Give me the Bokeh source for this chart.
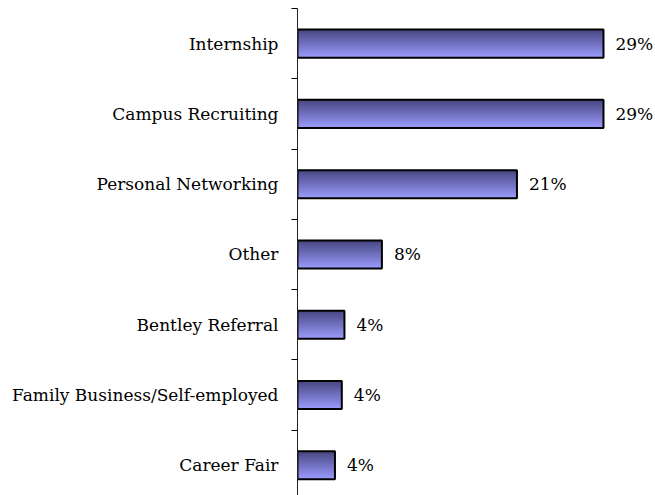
import numpy as np
from bokeh.plotting import figure
from bokeh.models import Range1d, FixedTicker, ColumnDataSource, LabelSet
from bokeh.core.properties import value
from bokeh.embed import file_html
from bokeh.resources import INLINE

categories = ["Internship", "Campus Recruiting", "Personal Networking", "Other",
              "Bentley Referral", "Family Business/Self-employed", "Career Fair"]
values = [29.0, 29.0, 20.8, 8.0, 4.45, 4.2, 3.55]
labels = ["29%", "29%", "21%", "8%", "4%", "4%", "4%"]

n = len(categories)
ypos = [n - 0.5 - i for i in range(n)]
src = ColumnDataSource(dict(y=ypos, v=values, lab=labels))

p = figure(width=655, height=495, output_backend="svg", toolbar_location=None,
           x_range=Range1d(0, 33.93), y_range=Range1d(0.07, 7),
           x_axis_location=None,
           min_border_left=297, min_border_right=0, min_border_top=8, min_border_bottom=0)
p.grid.visible = False
p.outline_line_color = None
p.background_fill_color = "white"

# gradient bars (dark top -> light bottom); each strip runs to the bar bottom
bar_h = 0.4
nstrip = 24
top_c = np.array([0x46, 0x46, 0x80], dtype=float)
bot_c = np.array([0x9c, 0x9c, 0xff], dtype=float)
for k in range(nstrip):
    t = k / nstrip
    c = top_c + (bot_c - top_c) * ((k + 0.5) / nstrip)
    col = "#%02x%02x%02x" % tuple(int(round(x)) for x in c)
    hh = bar_h * (1 - t)
    yc = [y - bar_h / 2 + hh / 2 for y in ypos]
    p.hbar(y=yc, left=0, right=values, height=hh,
           fill_color=col, line_color=None)
p.hbar(y="y", left=0, right="v", height=bar_h, source=src,
       fill_color=None, line_color="black", line_width=2)

ls = LabelSet(x="v", y="y", text="lab", source=src, x_offset=12,
              text_baseline="middle", text_align="left",
              text_font=value("DejaVu Serif"), text_font_size=value("17px"),
              text_color="black")
p.add_layout(ls)

ax = p.yaxis[0]
ax.ticker = FixedTicker(ticks=ypos, minor_ticks=list(range(0, n + 1)))
ax.major_label_overrides = {y: c for y, c in zip(ypos, categories)}
ax.major_tick_out = 0
ax.major_tick_in = 0
ax.minor_tick_out = 6
ax.minor_tick_in = 0
ax.minor_tick_line_color = "black"
ax.axis_line_color = "#222222"
ax.major_label_standoff = 13
ax.major_label_text_font = "DejaVu Serif"
ax.major_label_text_font_size = "17px"
ax.major_label_text_color = "black"

open("out.html", "w").write(file_html(p, INLINE))
